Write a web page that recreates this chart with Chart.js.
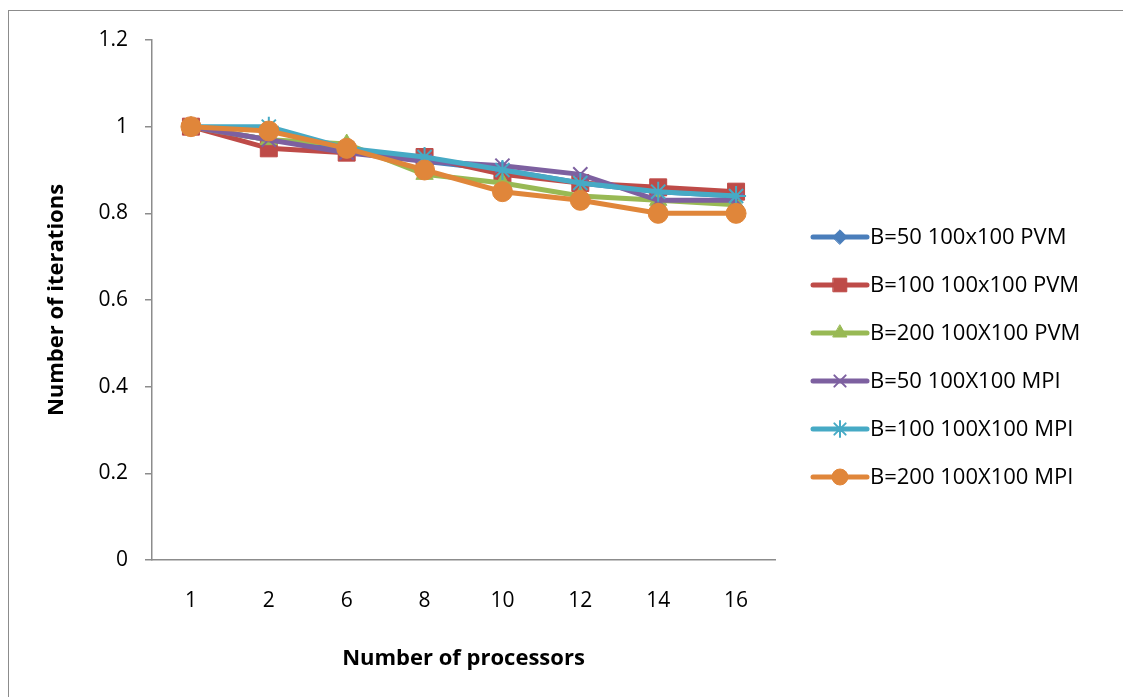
<!DOCTYPE html>
<html>
<head>
<meta charset="utf-8">
<script src="https://cdn.jsdelivr.net/npm/chart.js@4.4.0/dist/chart.umd.min.js"></script>
<style>
  html, body { margin: 0; padding: 0; background: #fff; overflow: hidden; }
  #frame { position: absolute; left: 8px; top: 10px; width: 1200px; height: 800px; border: 1.5px solid #8c8c8c; }
  #wrap { position: absolute; left: 0; top: 0; width: 1123px; height: 697px; }
</style>
</head>
<body>
<div id="frame"></div>
<div id="wrap"><canvas id="chart"></canvas></div>
<script>
// processors on the x axis
const processors = ['1', '2', '6', '8', '10', '12', '14', '16'];

// series (relative iteration counts)
const pvm50  = [1.00, 0.97, 0.95, 0.92, 0.90, 0.87, 0.85, 0.84];
const pvm100 = [1.00, 0.95, 0.94, 0.93, 0.89, 0.87, 0.86, 0.85];
const pvm200 = [1.00, 0.97, 0.96, 0.89, 0.87, 0.84, 0.83, 0.82];
const mpi50  = [1.00, 0.97, 0.94, 0.92, 0.91, 0.89, 0.83, 0.83];
const mpi100 = [1.00, 1.00, 0.95, 0.93, 0.90, 0.87, 0.85, 0.84];
const mpi200 = [1.00, 0.99, 0.95, 0.90, 0.85, 0.83, 0.80, 0.80];

const seriesNames = [
  'B=50 100x100 PVM',
  'B=100 100x100 PVM',
  'B=200 100X100 PVM',
  'B=50 100X100 MPI',
  'B=100 100X100 MPI',
  'B=200 100X100 MPI'
];
const yTicks = [0, 0.2, 0.4, 0.6, 0.8, 1, 1.2];

const colors = ['#4a7ebb', '#be4b48', '#98b954', '#7d60a0', '#46aac5', '#e0863a'];
const styles = ['rectRot', 'rect', 'triangle', 'crossRot', 'star', 'circle'];
const radii  = [9, 12, 10, 10, 10, 10];

const FONT = '"Open Sans", "Liberation Sans", sans-serif';

const datasets = [pvm50, pvm100, pvm200, mpi50, mpi100, mpi200].map((d, i) => ({
  label: seriesNames[i],
  data: d,
  borderColor: colors[i],
  backgroundColor: colors[i],
  borderWidth: 5,
  pointStyle: styles[i],
  pointRadius: radii[i],
  pointBorderWidth: (styles[i] === 'crossRot' || styles[i] === 'star') ? 2 : 1,
  pointBorderColor: colors[i],
  pointBackgroundColor: colors[i],
  tension: 0,
  order: 5 - i
}));

// legend on the right, drawn like the office one: line sample with marker in the middle
const sideLegend = {
  id: 'sideLegend',
  afterDraw(chart) {
    const ctx = chart.ctx;
    const x0 = 813, x1 = 867, top = 237, step = 48;
    ctx.save();
    chart.data.datasets.forEach((ds, i) => {
      const y = top + i * step;
      ctx.strokeStyle = ds.borderColor;
      ctx.lineWidth = 5;
      ctx.lineCap = 'round';
      ctx.beginPath();
      ctx.moveTo(x0, y);
      ctx.lineTo(x1, y);
      ctx.stroke();
      ctx.fillStyle = ds.backgroundColor;
      ctx.strokeStyle = ds.borderColor;
      ctx.lineWidth = ds.pointBorderWidth;
      Chart.helpers.drawPoint(ctx, {
        pointStyle: ds.pointStyle,
        radius: ds.pointRadius * 0.8,
        rotation: 0,
        borderWidth: ds.pointBorderWidth
      }, (x0 + x1) / 2, y);
      ctx.fillStyle = '#000';
      ctx.font = '22px ' + FONT;
      ctx.textBaseline = 'middle';
      ctx.textAlign = 'left';
      ctx.fillText(ds.label, x1 + 3, y + 1);
    });
    ctx.restore();
  }
};

new Chart(document.getElementById('chart'), {
  type: 'line',
  data: { labels: processors, datasets },
  plugins: [sideLegend],
  options: {
    responsive: true,
    maintainAspectRatio: false,
    animation: false,
    layout: { padding: { left: 0, right: 348, top: 40, bottom: 0 } },
    plugins: {
      legend: { display: false },
      tooltip: { enabled: false }
    },
    scales: {
      x: {
        offset: true,
        afterFit: (s) => { s.height = 137; },
        grid: { display: true, drawOnChartArea: false, drawTicks: false },
        border: { color: '#8c8c8c', width: 1.5 },
        ticks: { color: '#000', font: { family: FONT, size: 21 }, padding: 28, maxRotation: 0 },
        title: {
          display: true,
          text: 'Number of processors',
          color: '#000',
          font: { family: FONT, size: 22, weight: 'bold' },
          padding: { top: 4, bottom: 25 }
        }
      },
      y: {
        min: 0,
        max: 1.2,
        afterFit: (s) => { s.width = 152; },
        afterBuildTicks: (s) => { s.ticks = yTicks.map(v => ({ value: v })); },
        grid: { drawOnChartArea: false, drawTicks: true, tickLength: 7, color: '#8c8c8c', lineWidth: 1.5 },
        border: { color: '#8c8c8c', width: 1.5 },
        ticks: { color: '#000', font: { family: FONT, size: 21 }, padding: 17, callback: (v) => String(v) },
        title: {
          display: true,
          text: 'Number of iterations',
          color: '#000',
          font: { family: FONT, size: 22, weight: 'bold' },
          padding: { top: 44, bottom: 44 }
        }
      }
    }
  }
});
</script>
</body>
</html>
